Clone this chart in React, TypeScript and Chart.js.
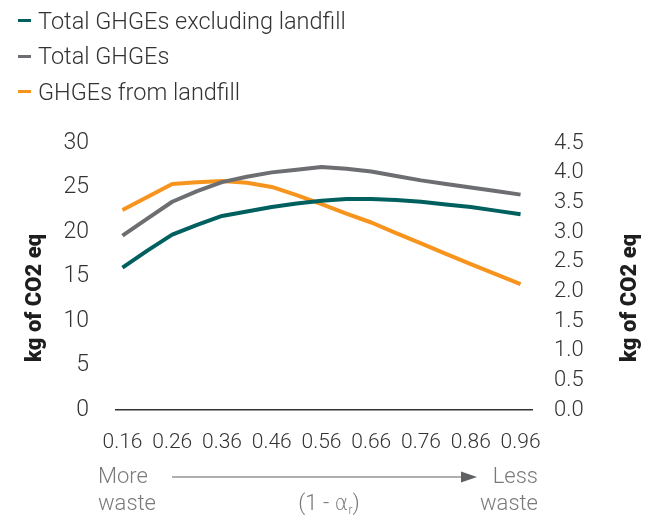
import React, { useEffect, useRef } from "react";
import { Chart, registerables } from "chart.js";

Chart.register(...registerables);

const FONT = "Roboto, 'Open Sans', sans-serif";

// x positions of the data points (1 - alpha_r)
const X_VALUES = [0.16, 0.21, 0.26, 0.31, 0.36, 0.41, 0.46, 0.51, 0.56, 0.61, 0.66, 0.71, 0.76, 0.81, 0.86, 0.91, 0.96];
const X_TICKS = [0.16, 0.26, 0.36, 0.46, 0.56, 0.66, 0.76, 0.86, 0.96];

// left axis (kg of CO2 eq)
const TOTAL_EXCL_LANDFILL = [16.0, 17.9, 19.7, 20.8, 21.8, 22.3, 22.8, 23.2, 23.5, 23.7, 23.7, 23.6, 23.4, 23.1, 22.8, 22.4, 22.0];
const TOTAL_GHGES = [19.6, 21.5, 23.4, 24.6, 25.6, 26.2, 26.7, 27.0, 27.3, 27.1, 26.8, 26.3, 25.8, 25.4, 25.0, 24.6, 24.2];
// right axis (kg of CO2 eq)
const GHGES_LANDFILL = [3.37, 3.59, 3.81, 3.84, 3.86, 3.83, 3.76, 3.62, 3.47, 3.31, 3.16, 2.98, 2.81, 2.63, 2.46, 2.29, 2.12];

const LEFT_TICKS = [0, 5, 10, 15, 20, 25, 30];
const RIGHT_TICKS = [0, 0.5, 1.0, 1.5, 2.0, 2.5, 3.0, 3.5, 4.0, 4.5];

const SERIES_LABELS = ["Total GHGEs excluding landfill", "Total GHGEs", "GHGEs from landfill"];
const SERIES_COLORS = ["#00605f", "#6d6e71", "#f7941d"];

const Y_TITLE = "kg of CO2 eq";
const LEFT_NOTE = ["More", "waste"];
const RIGHT_NOTE = ["Less", "waste"];

const annotationPlugin = {
  id: "annotations",
  afterDraw(chart: any) {
    const ctx = chart.ctx as CanvasRenderingContext2D;
    ctx.save();
    // axis titles
    ctx.font = `900 22px ${FONT}`;
    ctx.fillStyle = "#1e1e1e";
    ctx.textAlign = "center";
    ctx.textBaseline = "middle";
    ctx.save();
    ctx.translate(35, 298);
    ctx.rotate(-Math.PI / 2);
    ctx.fillText(Y_TITLE, 0, 0);
    ctx.restore();
    ctx.save();
    ctx.translate(630, 298);
    ctx.rotate(-Math.PI / 2);
    ctx.fillText(Y_TITLE, 0, 0);
    ctx.restore();

    // bottom notes
    ctx.font = `300 22px ${FONT}`;
    ctx.fillStyle = "#7a7a7a";
    ctx.textBaseline = "middle";
    ctx.textAlign = "left";
    ctx.fillText(LEFT_NOTE[0], 98, 477);
    ctx.fillText(LEFT_NOTE[1], 98, 504);
    ctx.textAlign = "right";
    ctx.fillText(RIGHT_NOTE[0], 538, 477);
    ctx.fillText(RIGHT_NOTE[1], 538, 504);

    // arrow
    ctx.strokeStyle = "#5f6062";
    ctx.lineWidth = 1.2;
    ctx.beginPath();
    ctx.moveTo(172, 477);
    ctx.lineTo(464, 477);
    ctx.stroke();
    ctx.fillStyle = "#5f6062";
    ctx.beginPath();
    ctx.moveTo(461, 471.5);
    ctx.lineTo(477, 477);
    ctx.lineTo(461, 482.5);
    ctx.closePath();
    ctx.fill();

    // (1 - α_r)
    ctx.fillStyle = "#7a7a7a";
    ctx.textAlign = "left";
    const parts = [
      { t: "(1 - ", f: `300 22px ${FONT}`, dy: 0 },
      { t: "α", f: `300 21px 'DejaVu Sans', sans-serif`, dy: 1 },
      { t: "r", f: `300 12px ${FONT}`, dy: 7 },
      { t: ")", f: `300 22px ${FONT}`, dy: 0 },
    ];
    let total = 0;
    const widths = parts.map((p) => {
      ctx.font = p.f;
      const w = ctx.measureText(p.t).width;
      total += w;
      return w;
    });
    let x = 329 - total / 2;
    parts.forEach((p, i) => {
      ctx.font = p.f;
      ctx.fillText(p.t, x, 504 + p.dy);
      x += widths[i];
    });
    ctx.restore();
  },
};

export default function App() {
  const canvasRef = useRef<HTMLCanvasElement | null>(null);

  useEffect(() => {
    if (!canvasRef.current) return;
    const toPoints = (ys: number[]) => X_VALUES.map((x, i) => ({ x, y: ys[i] }));
    const chart = new Chart(canvasRef.current, {
      type: "line",
      data: {
        datasets: [
          {
            label: SERIES_LABELS[0],
            data: toPoints(TOTAL_EXCL_LANDFILL),
            borderColor: SERIES_COLORS[0],
            yAxisID: "y",
          },
          {
            label: SERIES_LABELS[1],
            data: toPoints(TOTAL_GHGES),
            borderColor: SERIES_COLORS[1],
            yAxisID: "y",
          },
          {
            label: SERIES_LABELS[2],
            data: toPoints(GHGES_LANDFILL),
            borderColor: SERIES_COLORS[2],
            yAxisID: "y1",
          },
        ],
      },
      options: {
        animation: false,
        responsive: false,
        devicePixelRatio: 1,
        events: [],
        layout: { padding: { top: 143, left: 0, right: 0, bottom: 0 } },
        elements: {
          point: { radius: 0 },
          line: { borderWidth: 4, tension: 0, borderCapStyle: "butt", borderJoinStyle: "round" },
        },
        plugins: {
          legend: { display: false },
          tooltip: { enabled: false },
        },
        scales: {
          x: {
            type: "linear",
            min: 0.147,
            max: 0.983,
            afterBuildTicks: (s: any) => {
              s.ticks = X_TICKS.map((v) => ({ value: v }));
            },
            afterFit: (s: any) => {
              s.height = 106;
            },
            grid: { display: false, drawTicks: false },
            border: { display: true, color: "#333", width: 1.5 },
            ticks: {
              autoSkip: false,
              maxRotation: 0,
              padding: 20,
              color: "#333",
              font: { family: FONT, size: 21, weight: "300" as any },
              callback: (v: any) => Number(v).toFixed(2),
            },
          },
          y: {
            type: "linear",
            position: "left",
            min: 0,
            max: 30,
            afterBuildTicks: (s: any) => {
              s.ticks = LEFT_TICKS.map((v) => ({ value: v }));
            },
            afterFit: (s: any) => {
              s.width = 116;
            },
            grid: { display: false, drawTicks: false },
            border: { display: false },
            ticks: {
              autoSkip: false,
              padding: 27,
              color: "#333",
              font: { family: FONT, size: 23, weight: "300" as any },
              callback: (v: any) => String(v),
            },
          },
          y1: {
            type: "linear",
            position: "right",
            min: 0,
            max: 4.5,
            afterBuildTicks: (s: any) => {
              s.ticks = RIGHT_TICKS.map((v) => ({ value: v }));
            },
            afterFit: (s: any) => {
              s.width = 128;
            },
            grid: { display: false, drawTicks: false },
            border: { display: false },
            ticks: {
              autoSkip: false,
              padding: 22,
              color: "#333",
              font: { family: FONT, size: 22, weight: "300" as any },
              callback: (v: any) => Number(v).toFixed(1),
            },
          },
        },
      },
      plugins: [annotationPlugin],
    });
    return () => chart.destroy();
  }, []);

  return (
    <div style={{ position: "absolute", left: 0, top: 0, width: 660, height: 516, background: "#fff" }}>
      <canvas ref={canvasRef} width={660} height={516} style={{ position: "absolute", left: 0, top: 0 }} />
      <div style={{ position: "absolute", left: 18, top: 3, fontFamily: FONT }}>
        {SERIES_LABELS.map((label, i) => (
          <div
            key={label}
            style={{ display: "flex", alignItems: "center", height: 35.5, fontSize: 23.5, fontWeight: 300, color: "#333", whiteSpace: "nowrap" }}
          >
            <span style={{ display: "inline-block", width: 13, height: 3, background: SERIES_COLORS[i], marginRight: 7 }} />
            <span>{label}</span>
          </div>
        ))}
      </div>
    </div>
  );
}
